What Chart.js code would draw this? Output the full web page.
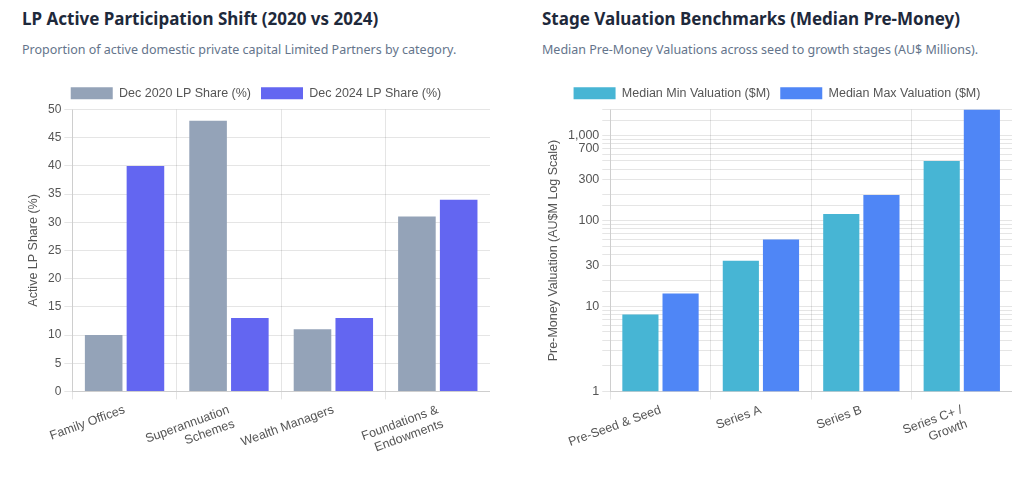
<!DOCTYPE html>
<html>
<head>
<meta charset="utf-8">
<script src="https://cdn.jsdelivr.net/npm/chart.js@4"></script>
<style>
body { margin: 0; background: #fff; font-family: "Noto Sans", "Liberation Sans", sans-serif; }
.wrap { display: flex; width: 1024px; height: 481px; }
.panel { position: relative; width: 512px; box-sizing: border-box; padding: 7px 22px 0 22px; }
.panel.right { padding-left: 30px; padding-right: 12px; }
h2 { margin: 0; font-size: 17px; font-weight: 700; color: #1e293b; }
p { margin: 11px 0 0 0; font-size: 12.5px; color: #64748b; }
.box { position: relative; height: 390px; margin-top: 19px; }
</style>
</head>
<body>
<div class="wrap">
  <div class="panel">
    <h2>LP Active Participation Shift (2020 vs 2024)</h2>
    <p>Proportion of active domestic private capital Limited Partners by category.</p>
    <div class="box"><canvas id="lpChart"></canvas></div>
  </div>
  <div class="panel right">
    <h2>Stage Valuation Benchmarks (Median Pre-Money)</h2>
    <p>Median Pre-Money Valuations across seed to growth stages (AU$ Millions).</p>
    <div class="box"><canvas id="valChart"></canvas></div>
  </div>
</div>
<script>
// LP participation data
const lpCategories = ['Family Offices', ['Superannuation', 'Schemes'], 'Wealth Managers', ['Foundations &', 'Endowments']];
const lpShare2020 = [10, 48, 11, 31];
const lpShare2024 = [40, 13, 13, 34];

// Valuation data
const stages = ['Pre-Seed & Seed', 'Series A', 'Series B', ['Series C+ /', 'Growth']];
const minValuation = [8, 34, 120, 500];
const maxValuation = [14, 60, 200, 2000];
const valTickLabels = [1, 10, 30, 100, 300, 700, 1000];

Chart.defaults.font.family = '"Liberation Sans", Arial, sans-serif';
Chart.defaults.font.size = 12;
Chart.defaults.color = '#555';

const legendOpts = {
    position: 'top',
    labels: { boxWidth: 42, boxHeight: 12, font: { size: 12.5 }, padding: 10 }
};
const xTicks = { maxRotation: 20, minRotation: 20, font: { size: 12.5 } };

new Chart(document.getElementById('lpChart'), {
    type: 'bar',
    data: {
        labels: lpCategories,
        datasets: [
            { label: 'Dec 2020 LP Share (%)', data: lpShare2020, backgroundColor: '#94a3b8' },
            { label: 'Dec 2024 LP Share (%)', data: lpShare2024, backgroundColor: '#6366f1' }
        ]
    },
    options: {
        responsive: true,
        maintainAspectRatio: false,
        animation: false,
        plugins: { legend: legendOpts },
        scales: {
            x: { ticks: xTicks },
            y: {
                min: 0, max: 50,
                ticks: { stepSize: 5 },
                title: { display: true, text: 'Active LP Share (%)', font: { size: 12.5 } }
            }
        }
    }
});

new Chart(document.getElementById('valChart'), {
    type: 'bar',
    data: {
        labels: stages,
        datasets: [
            { label: 'Median Min Valuation ($M)', data: minValuation, backgroundColor: '#47b5d4' },
            { label: 'Median Max Valuation ($M)', data: maxValuation, backgroundColor: '#4f86f6' }
        ]
    },
    options: {
        responsive: true,
        maintainAspectRatio: false,
        animation: false,
        plugins: { legend: legendOpts },
        scales: {
            x: { ticks: xTicks },
            y: {
                type: 'logarithmic',
                min: 1,
                ticks: {
                    autoSkip: false,
                    font: { size: 12.5 },
                    callback: function(value) {
                        return valTickLabels.includes(value) ? value.toLocaleString('en-US') : '';
                    }
                },
                title: { display: true, text: 'Pre-Money Valuation (AU$M Log Scale)', font: { size: 12.5 } }
            }
        }
    }
});
</script>
</body>
</html>
